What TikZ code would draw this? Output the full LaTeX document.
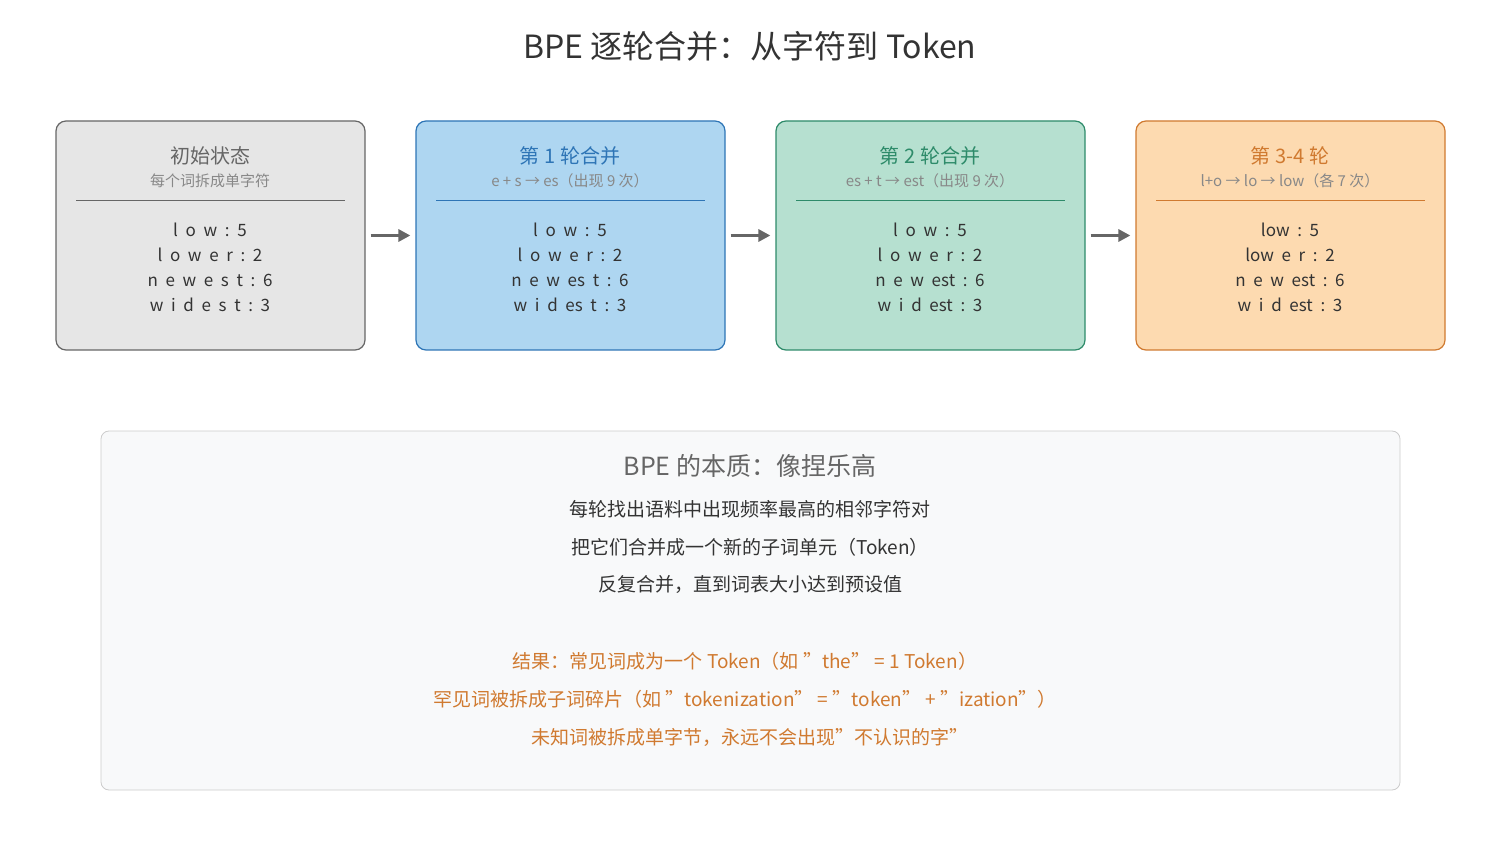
\documentclass[tikz,border=0pt]{standalone}
\usepackage{fontspec}
\setmainfont{Noto Sans CJK SC}
\usetikzlibrary{arrows.meta,positioning}
\definecolor{grayfill}{HTML}{E6E6E6}\definecolor{graydraw}{HTML}{666666}
\definecolor{bluefill}{HTML}{AED6F1}\definecolor{bluedraw}{HTML}{2E75B6}
\definecolor{greenfill}{HTML}{B6E0D0}\definecolor{greendraw}{HTML}{2E8B6A}
\definecolor{orangefill}{HTML}{FDDAB0}\definecolor{orangedraw}{HTML}{D07A30}
\definecolor{txt}{HTML}{333333}\definecolor{subtxt}{HTML}{888888}
\definecolor{notefill}{HTML}{F8F9FA}\definecolor{notedraw}{HTML}{CCCCCC}
\tikzset{every picture/.style={line width=1.2pt}}
\tikzset{
  stage/.style={draw, rounded corners=10pt, minimum width=309pt, minimum height=229pt, inner sep=0pt},
  ttl/.style={font=\fontsize{20}{24}\selectfont},
  sub/.style={font=\fontsize{15}{18}\selectfont, text=subtxt},
  body/.style={font=\fontsize{17}{25}\selectfont, text=txt, align=center},
  flow/.style={-{Triangle[length=12pt,width=12pt]}, line width=3pt, draw=graydraw, shorten <=5pt, shorten >=5pt},
  note/.style={font=\fontsize{19}{24}\selectfont, text=txt},
}
\newcommand{\tks}{\hspace{0.45em}}
\begin{document}
\begin{tikzpicture}[x=1pt,y=1pt,yscale=-1]
	\useasboundingbox (0,0) rectangle (1500,850);
	% title
	\node[font=\fontsize{32}{36}\selectfont, text=txt] (title) at (750,46) {BPE 逐轮合并：从字符到 Token};

	% stage boxes
	\node[stage, fill=grayfill, draw=graydraw] (s0) at (210.5,235.5) {};
	\node[stage, fill=bluefill, draw=bluedraw] (s1) at (570.5,235.5) {};
	\node[stage, fill=greenfill, draw=greendraw] (s2) at (930.5,235.5) {};
	\node[stage, fill=orangefill, draw=orangedraw] (s3) at (1290.5,235.5) {};

	% stage 0
	\node[ttl, text=graydraw] (t0) at (210,156) {初始状态};
	\node[sub] (u0) at (210,181) {每个词拆成单字符};
	\draw[graydraw, line width=0.8pt] (76,200) -- (345,200);
	\node[body] (b0) at (210,267) {l\tks o\tks w\tks :\tks 5\\l\tks o\tks w\tks e\tks r\tks :\tks 2\\n\tks e\tks w\tks e\tks s\tks t\tks :\tks 6\\w\tks i\tks d\tks e\tks s\tks t\tks :\tks 3};

	% stage 1
	\node[ttl, text=bluedraw] (t1) at (570,156) {第 1 轮合并};
	\node[sub] (u1) at (570,181) {e + s → es（出现 9 次）};
	\draw[bluedraw, line width=0.8pt] (436,200) -- (705,200);
	\node[body] (b1) at (570,267) {l\tks o\tks w\tks :\tks 5\\l\tks o\tks w\tks e\tks r\tks :\tks 2\\n\tks e\tks w\tks es\tks t\tks :\tks 6\\w\tks i\tks d\tks es\tks t\tks :\tks 3};

	% stage 2
	\node[ttl, text=greendraw] (t2) at (930,156) {第 2 轮合并};
	\node[sub] (u2) at (930,181) {es + t → est（出现 9 次）};
	\draw[greendraw, line width=0.8pt] (796,200) -- (1065,200);
	\node[body] (b2) at (930,267) {l\tks o\tks w\tks :\tks 5\\l\tks o\tks w\tks e\tks r\tks :\tks 2\\n\tks e\tks w\tks est\tks :\tks 6\\w\tks i\tks d\tks est\tks :\tks 3};

	% stage 3
	\node[ttl, text=orangedraw] (t3) at (1290,156) {第 3-4 轮};
	\node[sub] (u3) at (1290,181) {l+o → lo → low（各 7 次）};
	\draw[orangedraw, line width=0.8pt] (1156,200) -- (1425,200);
	\node[body] (b3) at (1290,267) {low\tks :\tks 5\\low\tks e\tks r\tks :\tks 2\\n\tks e\tks w\tks est\tks :\tks 6\\w\tks i\tks d\tks est\tks :\tks 3};

	% arrows
	\draw[flow] (s0) -- (s1);
	\draw[flow] (s1) -- (s2);
	\draw[flow] (s2) -- (s3);

	% summary box
	\node[draw=notedraw, fill=notefill, rounded corners=8pt, line width=0.8pt, minimum width=1299pt, minimum height=359pt] (sum) at (750.5,610.5) {};
	\node[font=\fontsize{25}{30}\selectfont, text=graydraw] (sumt) at (750,466) {BPE 的本质：像捏乐高};
	\node[note] (n1) at (750,509) {每轮找出语料中出现频率最高的相邻字符对};
	\node[note] (n2) at (750,547) {把它们合并成一个新的子词单元（Token）};
	\node[note] (n3) at (750,585) {反复合并，直到词表大小达到预设值};
	\node[note, text=orangedraw] (r1) at (745,661) {结果：常见词成为一个 Token（如 "the" = 1 Token）};
	\node[note, text=orangedraw] (r2) at (745,699) {罕见词被拆成子词碎片（如 "tokenization" = "token" + "ization"）};
	\node[note, text=orangedraw] (r3) at (750,737) {未知词被拆成单字节，永远不会出现"不认识的字"};
\end{tikzpicture}
\end{document}
